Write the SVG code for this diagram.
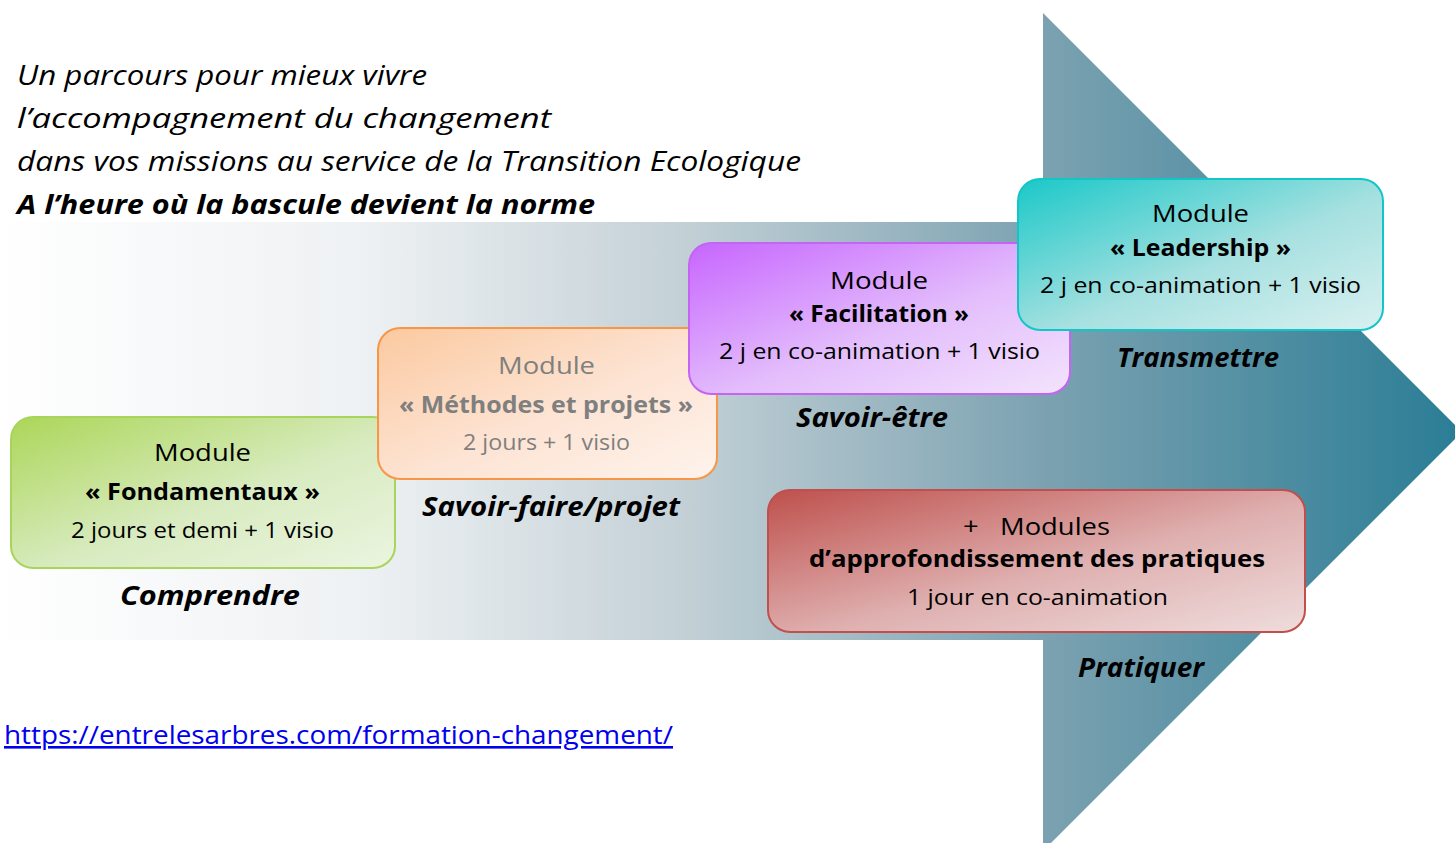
<svg xmlns="http://www.w3.org/2000/svg" width="1455" height="843" viewBox="0 0 1455 843">
<defs>
<linearGradient id="gShaft" gradientUnits="userSpaceOnUse" x1="0" y1="0" x2="1043" y2="0">
<stop offset="0" stop-color="#ffffff"/>
<stop offset="0.35" stop-color="#eef1f3"/>
<stop offset="0.65" stop-color="#c4d1d7"/>
<stop offset="1" stop-color="#7ca2b1"/>
</linearGradient>
<linearGradient id="gHead" gradientUnits="userSpaceOnUse" x1="1043" y1="0" x2="1462" y2="0">
<stop offset="0" stop-color="#7ca2b1"/>
<stop offset="1" stop-color="#2a7d95"/>
</linearGradient>
<linearGradient id="gGreen" x1="0" y1="0" x2="1" y2="1">
<stop offset="0" stop-color="#acd658"/>
<stop offset="0.55" stop-color="#d8ebc0"/>
<stop offset="1" stop-color="#ebf5e0"/>
</linearGradient>
<linearGradient id="gOrange" x1="0" y1="0" x2="1" y2="1">
<stop offset="0" stop-color="#fbc9a0"/>
<stop offset="0.55" stop-color="#fde4d4"/>
<stop offset="1" stop-color="#fef3ec"/>
</linearGradient>
<linearGradient id="gPurple" x1="0" y1="0" x2="1" y2="1">
<stop offset="0" stop-color="#c765fe"/>
<stop offset="0.55" stop-color="#e3bdfc"/>
<stop offset="1" stop-color="#f3e3fd"/>
</linearGradient>
<linearGradient id="gTeal" x1="0" y1="0" x2="1" y2="1">
<stop offset="0" stop-color="#1ac8c8"/>
<stop offset="0.55" stop-color="#a6e0e0"/>
<stop offset="1" stop-color="#d9f0f0"/>
</linearGradient>
<linearGradient id="gRed" x1="0" y1="0" x2="1" y2="1">
<stop offset="0" stop-color="#be504c"/>
<stop offset="0.55" stop-color="#dfb0b0"/>
<stop offset="1" stop-color="#efdcdc"/>
</linearGradient>
</defs>
<style>
text { font-family: "Open Sans", "DejaVu Sans", sans-serif; fill: #000; }
.intro { font-size: 27px; font-style: italic; }
.introb { font-size: 27px; font-style: italic; font-weight: bold; }
.l1 { font-size: 24px; }
.l2 { font-size: 24px; font-weight: bold; }
.l3 { font-size: 22px; }
.lab { font-size: 26px; font-style: italic; font-weight: bold; }
.gray { fill: #7f7f7f; }
.box { stroke-width: 2; }
.url { font-size: 26px; fill: #0000ee; text-decoration: underline; }
</style>

<g id="arrow">
<rect x="0" y="222" width="1044" height="418" fill="url(#gShaft)"/>
<polygon points="1043,13 1462,432 1043,851" fill="url(#gHead)"/>
</g>

<g id="intro">
<text class="intro" x="17" y="85" textLength="410" lengthAdjust="spacingAndGlyphs">Un parcours pour mieux vivre</text>
<text class="intro" x="17" y="128" textLength="534" lengthAdjust="spacingAndGlyphs">l’accompagnement du changement</text>
<text class="intro" x="17" y="171" textLength="784" lengthAdjust="spacingAndGlyphs">dans vos missions au service de la Transition Ecologique</text>
<text class="introb" x="17" y="214" textLength="578" lengthAdjust="spacingAndGlyphs">A l’heure où la bascule devient la norme</text>
</g>

<g id="node-fondamentaux">
<rect class="box" x="11" y="417" width="384" height="151" rx="22" fill="url(#gGreen)" stroke="#a8d45e"/>
<text class="l1" x="154" y="461" textLength="97" lengthAdjust="spacingAndGlyphs">Module</text>
<text class="l2" x="85" y="500" textLength="235" lengthAdjust="spacingAndGlyphs">« Fondamentaux »</text>
<text class="l3" x="71" y="538" textLength="263" lengthAdjust="spacingAndGlyphs">2 jours et demi + 1 visio</text>
<text class="lab" x="120" y="605" textLength="180" lengthAdjust="spacingAndGlyphs">Comprendre</text>
</g>

<g id="node-methodes">
<rect class="box" x="378" y="328" width="339" height="151" rx="22" fill="url(#gOrange)" stroke="#f79646"/>
<text class="l1 gray" x="498" y="374" textLength="97" lengthAdjust="spacingAndGlyphs">Module</text>
<text class="l2 gray" x="399" y="413" textLength="294" lengthAdjust="spacingAndGlyphs">« Méthodes et projets »</text>
<text class="l3 gray" x="463" y="450" textLength="167" lengthAdjust="spacingAndGlyphs">2 jours + 1 visio</text>
<text class="lab" x="422" y="516" textLength="258" lengthAdjust="spacingAndGlyphs">Savoir-faire/projet</text>
</g>

<g id="node-facilitation">
<rect class="box" x="689" y="243" width="381" height="151" rx="22" fill="url(#gPurple)" stroke="#c563f5"/>
<text class="l1" x="830" y="289" textLength="98" lengthAdjust="spacingAndGlyphs">Module</text>
<text class="l2" x="789" y="322" textLength="180" lengthAdjust="spacingAndGlyphs">« Facilitation »</text>
<text class="l3" x="719" y="359" textLength="321" lengthAdjust="spacingAndGlyphs">2 j en co-animation + 1 visio</text>
<text class="lab" x="796" y="427" textLength="152" lengthAdjust="spacingAndGlyphs">Savoir-être</text>
</g>

<g id="node-leadership">
<rect class="box" x="1018" y="179" width="365" height="151" rx="22" fill="url(#gTeal)" stroke="#12c6c8"/>
<text class="l1" x="1152" y="222" textLength="97" lengthAdjust="spacingAndGlyphs">Module</text>
<text class="l2" x="1110" y="256" textLength="181" lengthAdjust="spacingAndGlyphs">« Leadership »</text>
<text class="l3" x="1040" y="293" textLength="321" lengthAdjust="spacingAndGlyphs">2 j en co-animation + 1 visio</text>
<text class="lab" x="1117" y="367" textLength="162" lengthAdjust="spacingAndGlyphs">Transmettre</text>
</g>

<g id="node-pratiques">
<rect class="box" x="768" y="490" width="537" height="142" rx="22" fill="url(#gRed)" stroke="#c0504d"/>
<text class="l1" x="963" y="535" textLength="147" lengthAdjust="spacingAndGlyphs" xml:space="preserve">+   Modules</text>
<text class="l2" x="809" y="567" textLength="456" lengthAdjust="spacingAndGlyphs">d’approfondissement des pratiques</text>
<text class="l3" x="907" y="605" textLength="261" lengthAdjust="spacingAndGlyphs">1 jour en co-animation</text>
<text class="lab" x="1078" y="677" textLength="126" lengthAdjust="spacingAndGlyphs">Pratiquer</text>
</g>

<g id="link">
<text class="url" x="4" y="744" textLength="669" lengthAdjust="spacingAndGlyphs">https://entrelesarbres.com/formation-changement/</text>
</g>
</svg>
